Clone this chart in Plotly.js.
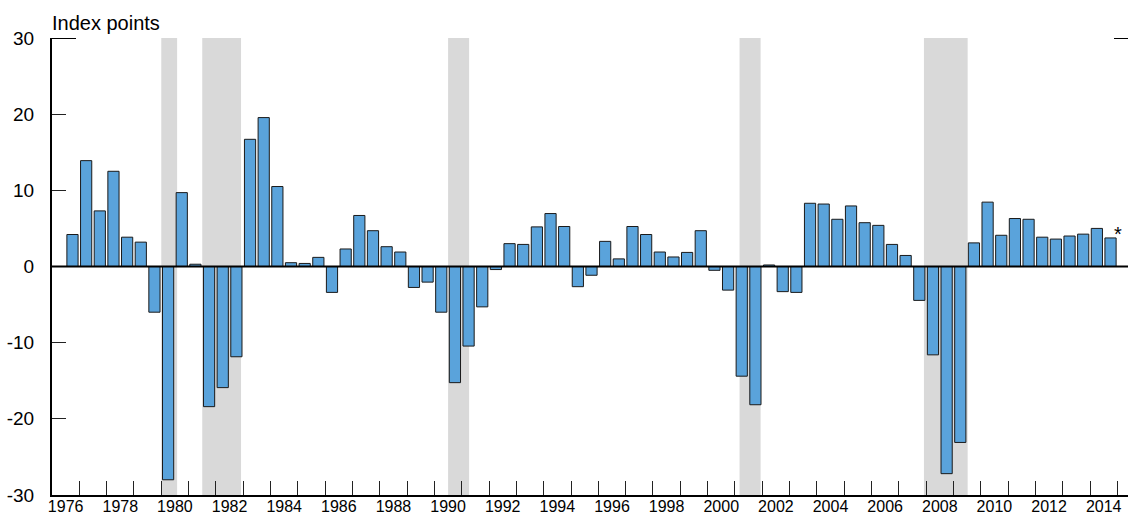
<!DOCTYPE html>
<html>
<head>
<meta charset="utf-8">
<script src="https://cdn.plot.ly/plotly-3.0.1.min.js"></script>
<style>
  html, body { margin: 0; padding: 0; background: #fff; }
  #chart { width: 1128px; height: 514px; }
</style>
</head>
<body>
<div id="chart"></div>
<script>
// Half-year periods (H1 = Jan-Jun, H2 = Jul-Dec)
var periods = [
  '1976 H2',
  '1977 H1','1977 H2','1978 H1','1978 H2','1979 H1','1979 H2','1980 H1','1980 H2',
  '1981 H1','1981 H2','1982 H1','1982 H2','1983 H1','1983 H2','1984 H1','1984 H2',
  '1985 H1','1985 H2','1986 H1','1986 H2','1987 H1','1987 H2','1988 H1','1988 H2',
  '1989 H1','1989 H2','1990 H1','1990 H2','1991 H1','1991 H2','1992 H1','1992 H2',
  '1993 H1','1993 H2','1994 H1','1994 H2','1995 H1','1995 H2','1996 H1','1996 H2',
  '1997 H1','1997 H2','1998 H1','1998 H2','1999 H1','1999 H2','2000 H1','2000 H2',
  '2001 H1','2001 H2','2002 H1','2002 H2','2003 H1','2003 H2','2004 H1','2004 H2',
  '2005 H1','2005 H2','2006 H1','2006 H2','2007 H1','2007 H2','2008 H1','2008 H2',
  '2009 H1','2009 H2','2010 H1','2010 H2','2011 H1','2011 H2','2012 H1','2012 H2',
  '2013 H1','2013 H2','2014 H1','2014 H2'
];

// Index points
var values = [
  4.2,
  13.9, 7.3, 12.5, 3.85, 3.2, -6.0, -28.0, 9.7,
  0.3, -18.4, -15.9, -11.85, 16.7, 19.55, 10.5, 0.5,
  0.4, 1.2, -3.4, 2.3, 6.7, 4.7, 2.6, 1.9,
  -2.75, -2.05, -6.0, -15.25, -10.45, -5.3, -0.4, 3.0,
  2.9, 5.2, 6.95, 5.25, -2.65, -1.15, 3.3, 1.0,
  5.25, 4.2, 1.9, 1.25, 1.85, 4.7, -0.5, -3.1,
  -14.4, -18.15, 0.2, -3.3, -3.4, 8.3, 8.2, 6.2,
  7.95, 5.75, 5.4, 2.9, 1.45, -4.45, -11.6, -27.2,
  -23.1, 3.1, 8.45, 4.1, 6.3, 6.2, 3.85, 3.6,
  4.0, 4.25, 5.0, 3.75
];

// Recessions (decimal years)
var recessionStart = [1980.0, 1981.5, 1990.5, 2001.17, 2007.92];
var recessionEnd   = [1980.58, 1982.92, 1991.27, 2001.94, 2009.52];

// Year tick marks (boundaries) and labels (every second year)
var yearTicks = [1977,1978,1979,1980,1981,1982,1983,1984,1985,1986,1987,1988,1989,1990,
  1991,1992,1993,1994,1995,1996,1997,1998,1999,2000,2001,2002,2003,2004,2005,2006,
  2007,2008,2009,2010,2011,2012,2013,2014,2015];
var labelYears = ['1976','1978','1980','1982','1984','1986','1988','1990','1992','1994',
  '1996','1998','2000','2002','2004','2006','2008','2010','2012','2014'];
var yTickVals = [-30, -20, -10, 0, 10, 20, 30];
var yTickText = ['-30', '-20', '-10', '0', '10', '20', '30'];
var rightTickVals = [-20, -10, 10, 20];

var xs = periods.map(function (p) {
  var parts = p.split(' ');
  return Number(parts[0]) + (parts[1] === 'H1' ? 0.25 : 0.75);
});
var labelPos = labelYears.map(function (y) { return Number(y) + 0.5; });

var xRange = [1976, 2015.39];
var yRange = [-30, 30];
var FONT = 'Liberation Sans, Arial, Helvetica, sans-serif';

var shapes = [];
for (var i = 0; i < recessionStart.length; i++) {
  shapes.push({
    type: 'rect', xref: 'x', yref: 'paper',
    x0: recessionStart[i], x1: recessionEnd[i], y0: 0, y1: 1,
    fillcolor: '#d9d9d9', line: { width: 0 }, layer: 'below'
  });
}
// zero line
shapes.push({ type: 'line', xref: 'paper', yref: 'y', x0: 0, x1: 1, y0: 0, y1: 0,
  line: { color: '#000', width: 2.2 }, layer: 'above' });
// long top ticks at 30
shapes.push({ type: 'line', xref: 'paper', yref: 'y', x0: 0, x1: 0.0223, y0: 30, y1: 30,
  line: { color: '#000', width: 2 }, layer: 'above' });
shapes.push({ type: 'line', xref: 'paper', yref: 'y', x0: 0.987, x1: 1, y0: 30, y1: 30,
  line: { color: '#000', width: 2 }, layer: 'above' });

var trace = {
  type: 'bar',
  x: xs,
  y: values,
  width: 0.41,
  marker: { color: '#5aa3db', line: { color: '#1a1a1a', width: 1 } },
  hoverinfo: 'x+y'
};

var layout = {
  width: 1128, height: 514,
  margin: { l: 52, r: 0, t: 38, b: 19, pad: 0 },
  paper_bgcolor: '#fff', plot_bgcolor: '#fff',
  showlegend: false,
  bargap: 0,
  font: { family: FONT, color: '#000' },
  xaxis: {
    range: xRange, tickmode: 'array', tickvals: yearTicks,
    ticks: 'inside', ticklen: 14, tickwidth: 1, tickcolor: '#222',
    showticklabels: false, showgrid: false, zeroline: false,
    showline: true, linecolor: '#000', linewidth: 2, fixedrange: true
  },
  xaxis2: {
    overlaying: 'x', anchor: 'y', side: 'bottom', range: xRange,
    tickmode: 'array', tickvals: labelPos, ticktext: labelYears,
    ticks: '', showgrid: false, zeroline: false, showline: false,
    tickfont: { family: FONT, size: 16, color: '#000' }, fixedrange: true
  },
  yaxis: {
    range: yRange, tickmode: 'array', tickvals: yTickVals, ticktext: yTickText,
    ticks: 'inside', ticklen: 14, tickwidth: 1, tickcolor: '#222',
    ticklabelstandoff: 12,
    tickfont: { family: FONT, size: 19, color: '#000' },
    showgrid: false, zeroline: false,
    showline: true, linecolor: '#000', linewidth: 2, fixedrange: true
  },
  yaxis2: {
    overlaying: 'y', anchor: 'x', side: 'right', range: yRange,
    tickmode: 'array', tickvals: rightTickVals,
    ticks: 'inside', ticklen: 4, tickwidth: 1, tickcolor: '#222',
    showticklabels: false, showgrid: false, zeroline: false, showline: false,
    fixedrange: true
  },
  shapes: shapes,
  annotations: [
    {
      text: 'Index points', xref: 'paper', yref: 'paper', x: 0, y: 1,
      xanchor: 'left', yanchor: 'bottom', showarrow: false, yshift: 2, xshift: -2,
      font: { family: FONT, size: 20, color: '#000' }
    },
    {
      text: '*', xref: 'x', yref: 'y', x: xs[xs.length - 1], y: values[values.length - 1],
      xanchor: 'center', yanchor: 'bottom', showarrow: false, xshift: 7, yshift: -9,
      font: { family: FONT, size: 20, color: '#000' }
    }
  ]
};

// dummy trace to attach xaxis2 so its labels render
var labelTrace = {
  type: 'scatter', x: [xRange[0]], y: [0], xaxis: 'x2', yaxis: 'y',
  mode: 'markers', marker: { opacity: 0 }, hoverinfo: 'skip'
};

Plotly.newPlot('chart', [trace, labelTrace], layout, { displayModeBar: false, staticPlot: true });
</script>
</body>
</html>
